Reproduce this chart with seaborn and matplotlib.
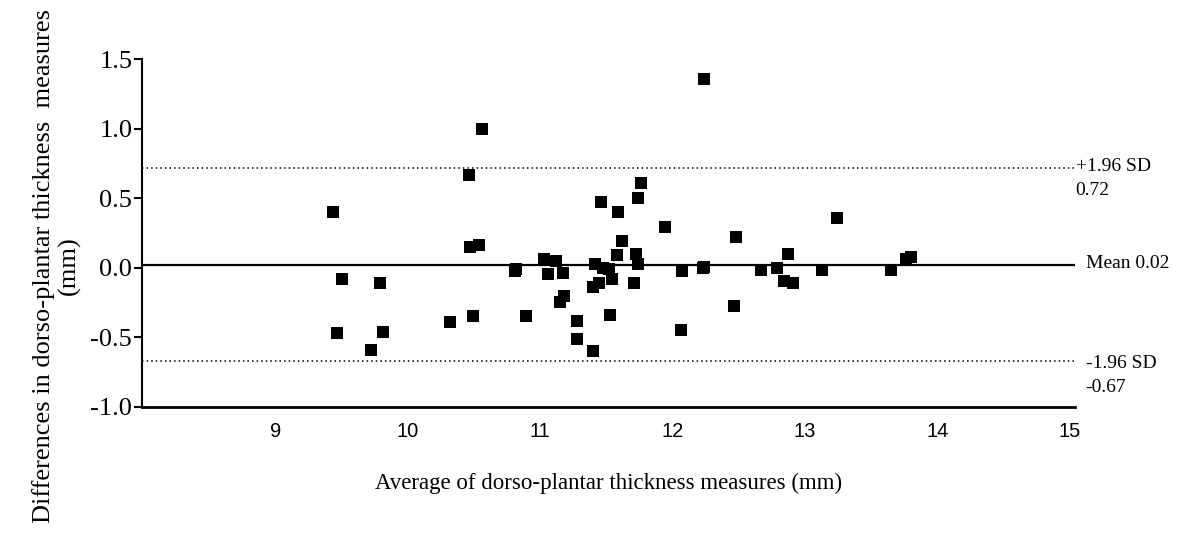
import matplotlib
matplotlib.use("Agg")
import matplotlib.pyplot as plt
import numpy as np
import pandas as pd
import seaborn as sns

# Bland-Altman data: average of the two measures vs their difference (mm)
avg_mm = [
    9.43, 9.50, 9.46, 9.72, 9.79, 9.81, 10.32, 10.46, 10.47, 10.54,
    10.49, 10.56, 10.81, 10.82, 10.89, 11.03, 11.12, 11.06, 11.17, 11.18,
    11.15, 11.28, 11.28, 11.40, 11.41, 11.40, 11.44, 11.46, 11.47, 11.52,
    11.54, 11.53, 11.58, 11.59, 11.62, 11.71, 11.72, 11.74, 11.74, 11.76,
    11.94, 12.07, 12.06, 12.23, 12.24, 12.24, 12.48, 12.46, 12.67, 12.79,
    12.87, 12.84, 12.91, 13.13, 13.24, 13.65, 13.76, 13.80,
]
diff_mm = [
    0.40, -0.08, -0.47, -0.59, -0.11, -0.46, -0.39, 0.67, 0.15, 0.16,
    -0.35, 1.00, -0.02, -0.01, -0.35, 0.065, 0.046, -0.044, -0.036, -0.20,
    -0.25, -0.38, -0.51, -0.60, 0.03, -0.14, -0.11, 0.47, -0.004, -0.01,
    -0.08, -0.34, 0.094, 0.40, 0.19, -0.11, 0.10, 0.027, 0.50, 0.61,
    0.295, -0.025, -0.45, -0.004, 0.003, 1.355, 0.22, -0.276, -0.017, -0.004,
    0.096, -0.094, -0.108, -0.017, 0.355, -0.017, 0.065, 0.075,
]

mean_diff = 0.02
upper_loa = 0.72
lower_loa = -0.67

x_ticks = [9, 10, 11, 12, 13, 14, 15]
y_ticks = [-1.0, -0.5, 0.0, 0.5, 1.0, 1.5]

sns.set_theme(style="white")
plt.rcParams["font.family"] = ["Liberation Serif", "DejaVu Serif"]

df = pd.DataFrame({"avg": avg_mm, "diff": diff_mm})

fig = plt.figure(figsize=(12, 5.35), dpi=100)
ax = fig.add_axes([0.1183, 0.2398, 0.7775, 0.6494])

sns.scatterplot(data=df, x="avg", y="diff", marker="s", s=64,
                color="black", linewidth=0, ax=ax, zorder=3)

ax.axhline(mean_diff, color="black", lw=1.6, zorder=2)
ax.axhline(upper_loa, color="black", lw=1.1, ls=(0, (1, 2)), zorder=2)
ax.axhline(lower_loa, color="black", lw=1.1, ls=(0, (1, 2)), zorder=2)

ax.set_xlim(7.99, 15.04)
ax.set_ylim(-1.0, 1.5)
ax.set_xticks(x_ticks)
ax.set_xticklabels([str(t) for t in x_ticks], family="Liberation Sans", fontsize=14.5)
ax.set_yticks(y_ticks)
ax.set_yticklabels([f"{t:.1f}" for t in y_ticks], fontsize=19)

for side in ["top", "right"]:
    ax.spines[side].set_visible(False)
ax.spines["left"].set_color("black")
ax.spines["left"].set_linewidth(1.5)
ax.spines["bottom"].set_color("black")
ax.spines["bottom"].set_linewidth(2.0)
ax.tick_params(axis="y", direction="out", length=6, width=1.5, color="black",
               left=True, pad=1, labelcolor="black")
ax.tick_params(axis="x", length=0, pad=11, labelcolor="black")

ax.set_xlabel("Average of dorso-plantar thickness measures (mm)",
              fontsize=16.5, color="black")
ax.xaxis.set_label_coords(0.5, -0.22)
ax.xaxis.label.set_verticalalignment("center")

ax.set_ylabel("Differences in dorso-plantar thickness  measures\n(mm)",
              fontsize=19, color="black", linespacing=1.15)
ax.yaxis.set_label_coords(-0.092, 0.405)
ax.yaxis.label.set_verticalalignment("center")

txt = dict(fontsize=14, color="black", clip_on=False, va="center")
ax.text(15.05, 0.73, "+1.96 SD", ha="left", **txt)
ax.text(15.04, 0.554, "0.72", ha="left", **txt)
ax.text(15.12, 0.027, "Mean 0.02", ha="left", **txt)
ax.text(15.12, -0.69, "-1.96 SD", ha="left", **txt)
ax.text(15.12, -0.86, "-0.67", ha="left", **txt)

fig.savefig("out.png", dpi=100)
